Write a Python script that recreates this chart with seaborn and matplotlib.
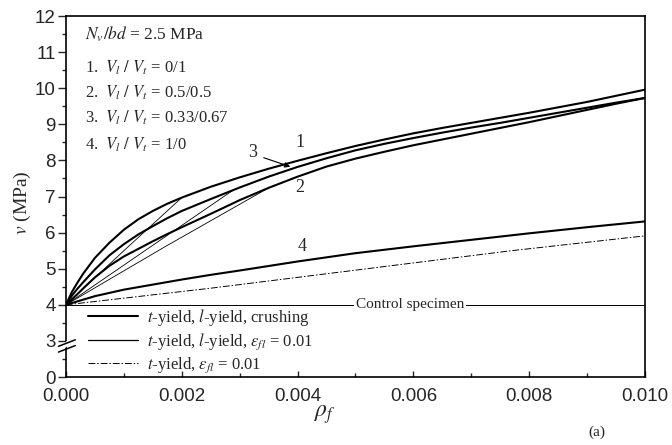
import numpy as np
import matplotlib.pyplot as plt
import seaborn as sns
from matplotlib.lines import Line2D

# curve values (rho_f, v in MPa)
rho_1 = [0, 0.0001, 0.0002, 0.0003, 0.0005, 0.00075, 0.001, 0.00125, 0.0015, 0.00175, 0.002,
         0.0025, 0.003, 0.0035, 0.004, 0.0045, 0.005, 0.0055, 0.006, 0.0065, 0.007, 0.0075,
         0.008, 0.0085, 0.009, 0.0095, 0.010]
v_1 = [4, 4.35, 4.62, 4.87, 5.3, 5.72, 6.08, 6.37, 6.6, 6.8, 6.97,
       7.27, 7.53, 7.77, 7.99, 8.2, 8.4, 8.58, 8.75, 8.9, 9.04, 9.18,
       9.32, 9.47, 9.62, 9.79, 9.96]

rho_2 = [0, 0.0001, 0.0002, 0.0003, 0.0005, 0.00075, 0.001, 0.00125, 0.0015, 0.00175, 0.002,
         0.0025, 0.003, 0.0035, 0.004, 0.0045, 0.005, 0.0055, 0.006, 0.0065, 0.007, 0.0075,
         0.008, 0.0085, 0.009, 0.0095, 0.010]
v_2 = [4, 4.15, 4.3, 4.46, 4.76, 5.08, 5.34, 5.55, 5.76, 5.96, 6.15,
       6.52, 6.9, 7.24, 7.55, 7.83, 8.05, 8.24, 8.42, 8.58, 8.74, 8.9,
       9.06, 9.23, 9.4, 9.57, 9.73]

rho_3 = [0, 0.0001, 0.0002, 0.0003, 0.0005, 0.00075, 0.001, 0.00125, 0.0015, 0.00175, 0.002,
         0.0025, 0.003, 0.0035, 0.004, 0.0045, 0.005, 0.0055, 0.006, 0.0065, 0.007, 0.0075,
         0.008, 0.0085, 0.009, 0.0095, 0.010]
v_3 = [4, 4.25, 4.45, 4.63, 4.98, 5.37, 5.68, 5.95, 6.18, 6.4, 6.6,
       6.93, 7.25, 7.55, 7.82, 8.06, 8.28, 8.46, 8.62, 8.77, 8.91, 9.04,
       9.18, 9.32, 9.46, 9.6, 9.73]

rho_4 = [0, 0.0005, 0.001, 0.0015, 0.002, 0.0025, 0.003, 0.004, 0.005, 0.006, 0.007, 0.008, 0.009, 0.010]
v_4 = [4, 4.24, 4.42, 4.56, 4.7, 4.83, 4.95, 5.2, 5.43, 5.62, 5.8, 5.98, 6.15, 6.31]

# t-yield, l-yield, eps = 0.01 branches (join the crushing curves)
rho_thin_1 = [0, 0.001, 0.002]
v_thin_1 = [4, 5.5, 6.97]
rho_thin_2 = [0, 0.0017, 0.0035]
v_thin_2 = [4, 5.6, 7.24]
rho_thin_3 = [0, 0.0015, 0.0029]
v_thin_3 = [4, 5.65, 7.19]

# t-yield only, eps = 0.01
rho_t = [0, 0.0025, 0.0054, 0.0077, 0.010]
v_t = [4, 4.46, 5.04, 5.5, 5.91]

# control specimen
rho_c = [0, 0.010]
v_c = [4, 4]

y_ticks = [2, 3, 4, 5, 6, 7, 8, 9, 10, 11, 12]
y_labels = ['0', '3', '4', '5', '6', '7', '8', '9', '10', '11', '12']

sns.set_style('ticks')
plt.rcParams['font.family'] = ['Liberation Serif', 'DejaVu Serif']
plt.rcParams['mathtext.fontset'] = 'stix'

fig = plt.figure(figsize=(6.72, 4.45), dpi=100)
ax = fig.add_axes([0.0982, 0.1528, 0.8616, 0.8112])

dashdot = (0, (7, 2, 1.5, 2))

for r, v in [(rho_1, v_1), (rho_2, v_2), (rho_3, v_3), (rho_4, v_4)]:
    sns.lineplot(x=r, y=v, ax=ax, sort=False, estimator=None, color='black', lw=1.5, legend=False)
for r, v in [(rho_thin_1, v_thin_1), (rho_thin_2, v_thin_2), (rho_thin_3, v_thin_3)]:
    sns.lineplot(x=r, y=v, ax=ax, sort=False, estimator=None, color='black', lw=0.6, legend=False)
sns.lineplot(x=rho_t, y=v_t, ax=ax, sort=False, estimator=None, color='black', lw=0.7,
             linestyle=dashdot, legend=False)
sns.lineplot(x=rho_c, y=v_c, ax=ax, sort=False, estimator=None, color='black', lw=0.7, legend=False)

ax.text(0.00594, 4, 'Control specimen', fontsize=11, ha='center', va='center',
        bbox=dict(facecolor='white', edgecolor='none', pad=1.5))

# axes limits and ticks
ax.set_xlim(0, 0.010)
ax.set_ylim(2, 12)
ax.set_xticks(np.arange(0, 0.0101, 0.002))
ax.set_xticks(np.arange(0.001, 0.0101, 0.002), minor=True)
ax.set_xticklabels(['%.3f' % t for t in np.arange(0, 0.0101, 0.002)])
ax.set_yticks(y_ticks)
ax.set_yticks(np.arange(2.5, 12, 1.0), minor=True)
ax.set_yticklabels(y_labels)
for lab in ax.get_xticklabels() + ax.get_yticklabels():
    lab.set_family('Liberation Sans')
    lab.set_fontsize(13.5)
ax.tick_params(axis='x', which='major', direction='in', length=4.5, width=1, pad=8)
ax.tick_params(axis='x', which='minor', direction='in', length=3, width=1)
ax.tick_params(axis='y', which='major', direction='out', length=5.5, width=1, pad=2)
ax.tick_params(axis='y', which='minor', direction='out', length=3, width=1)
for s in ax.spines.values():
    s.set_linewidth(1.2)
    s.set_color('black')

# axis break marks
ax.plot([-0.005, 0.005], [0.083, 0.097], transform=ax.transAxes, color='white', lw=3,
        clip_on=False, zorder=5)
for yb in [0.078, 0.094]:
    ax.plot([-0.013, 0.016], [yb - 0.009, yb + 0.009], transform=ax.transAxes,
            color='black', lw=1.1, clip_on=False, zorder=6)

# annotations
ax.text(0.00033, 11.48, r'$N_v/bd$ = 2.5 MPa', fontsize=12.5, va='center')
items = [r'1.  $V_l\ /\ V_t$ = 0/1', r'2.  $V_l\ /\ V_t$ = 0.5/0.5',
         r'3.  $V_l\ /\ V_t$ = 0.33/0.67', r'4.  $V_l\ /\ V_t$ = 1/0']
for txt, yy in zip(items, [10.57, 9.87, 9.18, 8.43]):
    ax.text(0.00033, yy, txt, fontsize=12, va='center')

ax.text(0.00404, 8.49, '1', fontsize=13, ha='center', va='center')
ax.text(0.00404, 7.24, '2', fontsize=13, ha='center', va='center')
ax.text(0.00323, 8.21, '3', fontsize=13, ha='center', va='center')
ax.text(0.00408, 5.61, '4', fontsize=13, ha='center', va='center')
ax.annotate('', xy=(0.00392, 7.80), xytext=(0.00337, 8.10),
            arrowprops=dict(arrowstyle='-|>', color='black', lw=0.8, mutation_scale=8))

# legend
handles = [Line2D([], [], color='black', lw=1.5),
           Line2D([], [], color='black', lw=0.9),
           Line2D([], [], color='black', lw=0.7, linestyle=dashdot)]
labels = [r'$t$-yield, $l$-yield, crushing',
          r'$t$-yield, $l$-yield, $\varepsilon_{fl}$ = 0.01',
          r'$t$-yield, $\varepsilon_{fl}$ = 0.01']
ax.legend(handles, labels, loc='upper left', bbox_to_anchor=(0.026, 0.212), frameon=False,
          fontsize=12, handlelength=3.0, handletextpad=0.55, labelspacing=0.2, borderaxespad=0)

fig.text(22 / 672, 1 - 203 / 445, r'$v$ (MPa)', rotation=90, fontsize=14, ha='center', va='center')
fig.text(325 / 672, 1 - 415 / 445, r'$\rho_f$', fontsize=17, ha='center', va='center')
fig.text(597 / 672, 1 - 432 / 445, '(a)', fontsize=11, ha='center', va='center')

fig.savefig('out.png', dpi=100)
